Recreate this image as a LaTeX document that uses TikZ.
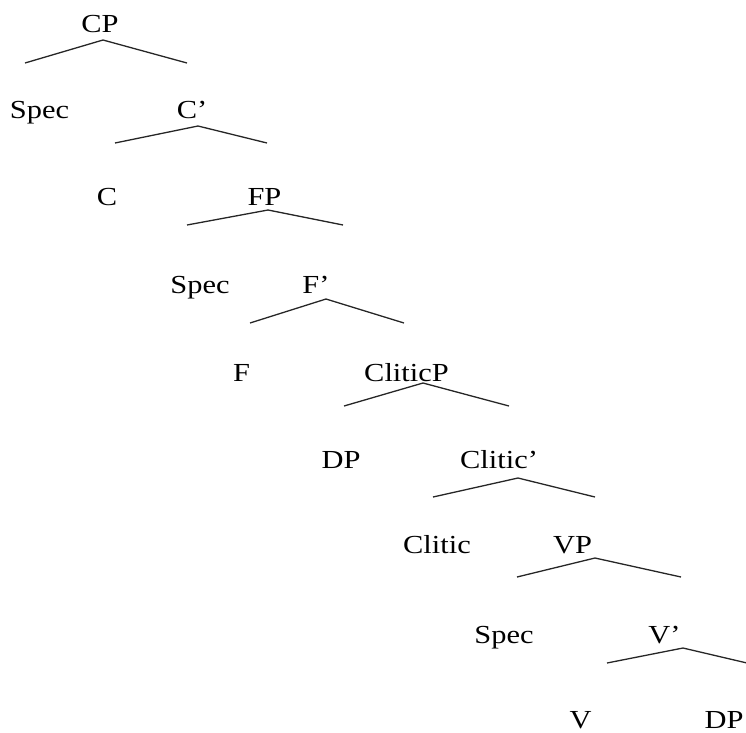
\documentclass[tikz,border=0pt]{standalone}
\usepackage{fontspec}
\setmainfont[FakeStretch=1.17]{Liberation Serif}
\begin{document}
\begin{tikzpicture}[x=1pt,y=-1pt,
  lab/.style={anchor=base,inner sep=0pt,font=\fontsize{26}{31}\selectfont},
  branch/.style={draw=black!85,line width=1.3pt,line join=miter}]
\useasboundingbox (0,0) rectangle (746,732);

% labels, row by row (x = centre, y = baseline)
\node[lab] (cp)      at (100,32)  {CP};
\node[lab] (spec1)   at (39.5,118) {Spec};
\node[lab] (cbar)    at (192,118) {C’};
\node[lab] (c)       at (107,205) {C};
\node[lab] (fp)      at (264.5,205) {FP};
\node[lab] (spec2)   at (200,293) {Spec};
\node[lab] (fbar)    at (316,293) {F’};
\node[lab] (f)       at (241.5,381) {F};
\node[lab] (cliticp) at (406.5,381) {CliticP};
\node[lab] (dp1)     at (341,468) {DP};
\node[lab] (cliticbar) at (499,468) {Clitic’};
\node[lab] (clitic)  at (437,553) {Clitic};
\node[lab] (vp)      at (572.5,553) {VP};
\node[lab] (spec3)   at (504,643) {Spec};
\node[lab] (vbar)    at (664.5,643) {V’};
\node[lab] (v)       at (580.5,728) {V};
\node[lab] (dp2)     at (724,728) {DP};

% branch points under each phrase label
\coordinate (cpA) at (103,40);   \coordinate (cpL) at (25,63);   \coordinate (cpR) at (187,63);
\coordinate (cbA) at (198,126);  \coordinate (cbL) at (115,143); \coordinate (cbR) at (267,143);
\coordinate (fpA) at (268,210);  \coordinate (fpL) at (187,225); \coordinate (fpR) at (343,225);
\coordinate (fbA) at (326,299);  \coordinate (fbL) at (250,323); \coordinate (fbR) at (404,323);
\coordinate (clA) at (423,383);  \coordinate (clL) at (344,406); \coordinate (clR) at (509,406);
\coordinate (cbbA) at (518,478); \coordinate (cbbL) at (433,497); \coordinate (cbbR) at (595,497);
\coordinate (vpA) at (595,558);  \coordinate (vpL) at (517,577); \coordinate (vpR) at (681,577);
\coordinate (vbA) at (683,648);  \coordinate (vbL) at (607,663); \coordinate (vbR) at (747,663);

\draw[branch] (cpL) -- (cpA) -- (cpR);
\draw[branch] (cbL) -- (cbA) -- (cbR);
\draw[branch] (fpL) -- (fpA) -- (fpR);
\draw[branch] (fbL) -- (fbA) -- (fbR);
\draw[branch] (clL) -- (clA) -- (clR);
\draw[branch] (cbbL) -- (cbbA) -- (cbbR);
\draw[branch] (vpL) -- (vpA) -- (vpR);
\draw[branch] (vbL) -- (vbA) -- (vbR);
\end{tikzpicture}
\end{document}
